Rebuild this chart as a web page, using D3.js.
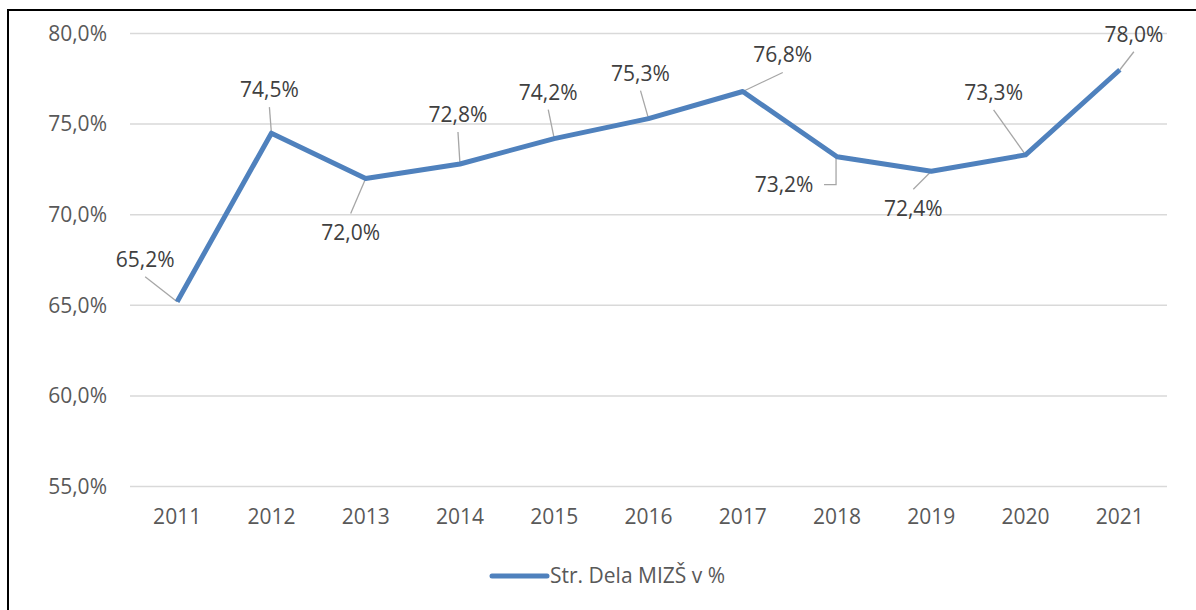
<!DOCTYPE html>
<html><head><meta charset="utf-8">
<script src="https://cdn.jsdelivr.net/npm/d3@7"></script>
<style>
html,body{margin:0;padding:0;background:#fff;}
svg{display:block;font-family:"Open Sans",sans-serif;}
</style></head>
<body><svg id="c" width="1196" height="610"></svg>
<script>
const years = ["2011","2012","2013","2014","2015","2016","2017","2018","2019","2020","2021"];
const values = [65.2, 74.5, 72.0, 72.8, 74.2, 75.3, 76.8, 73.2, 72.4, 73.3, 78.0];
const yTicks = [55, 60, 65, 70, 75, 80];
const seriesName = "Str. Dela MIZŠ v %";
// label placement offsets (pixels, relative to point): [dx, dy to baseline]
const labelOffsets = [[-32,-35],[-2,-36],[-15,62],[-2,-42],[-6,-39],[-8,-38],[40,-29],[-53,35],[-18,45],[-32,-55],[14,-28]];

const FS = 21;
const svg = d3.select("#c");
const fmt = v => d3.format(".1f")(v).replace(".", ",") + "%";

// frame
svg.append("rect").attr("x",8).attr("y",10).attr("width",1200).attr("height",620)
  .attr("fill","none").attr("stroke","#000").attr("stroke-width",2);

const x = d3.scaleBand().domain(years).range([130, 1167]);
const y = d3.scaleLinear().domain([55, 80]).range([486.5, 33.5]);

// gridlines
svg.append("g").selectAll("line").data(yTicks).join("line")
  .attr("x1",130).attr("x2",1167)
  .attr("y1",d=>y(d)).attr("y2",d=>y(d))
  .attr("stroke","#d9d9d9").attr("stroke-width",1.5);

// y axis labels
const yAxis = d3.axisLeft(y).tickValues(yTicks).tickFormat(fmt).tickSize(0).tickPadding(0);
const gy = svg.append("g").attr("transform","translate(107,0)").call(yAxis);
gy.select(".domain").remove();
gy.selectAll("text").attr("fill","#595959").attr("font-size",FS).attr("font-family","Open Sans");

// x axis labels
const xAxis = d3.axisBottom(x).tickSize(0).tickPadding(0);
const gx = svg.append("g").attr("transform","translate(0,509)").call(xAxis);
gx.select(".domain").remove();
gx.selectAll("text").attr("fill","#595959").attr("font-size",FS).attr("font-family","Open Sans").attr("dy","0.71em");

const px = (d,i) => x(years[i]) + x.bandwidth()/2;

// leader lines
const lead = svg.append("g");
values.forEach((v,i) => {
  const X = px(v,i), Y = y(v);
  const [dx,dy] = labelOffsets[i];
  const lx = X+dx, by = Y+dy;
  let pts;
  if (i === 7) {
    pts = [[lx+40, by-7],[X-1, by-7],[X-1, Y+1]];
  } else if (dy < 0) {
    pts = [[lx, by+10],[X, Y]];
  } else {
    pts = [[lx, by-27],[X, Y]];
  }
  lead.append("path").attr("d", d3.line()(pts)).attr("fill","none")
    .attr("stroke","#a6a6a6").attr("stroke-width",1.3);
});

// line
svg.append("path").datum(values)
  .attr("d", d3.line().x((d,i)=>px(d,i)).y(d=>y(d)))
  .attr("fill","none").attr("stroke","#4f81bd").attr("stroke-width",5)
  .attr("stroke-linejoin","round");

// labels
svg.append("g").selectAll("text").data(values).join("text")
  .attr("x",(d,i)=>px(d,i)+labelOffsets[i][0])
  .attr("y",(d,i)=>y(d)+labelOffsets[i][1])
  .attr("text-anchor","middle").attr("font-size",FS).attr("fill","#404040")
  .text(fmt);

// legend
svg.append("line").attr("x1",492).attr("x2",547).attr("y1",576).attr("y2",576)
  .attr("stroke","#4f81bd").attr("stroke-width",5).attr("stroke-linecap","round");
svg.append("text").attr("x",550).attr("y",583).attr("font-size",FS).attr("fill","#595959")
  .text(seriesName);
</script></body></html>
